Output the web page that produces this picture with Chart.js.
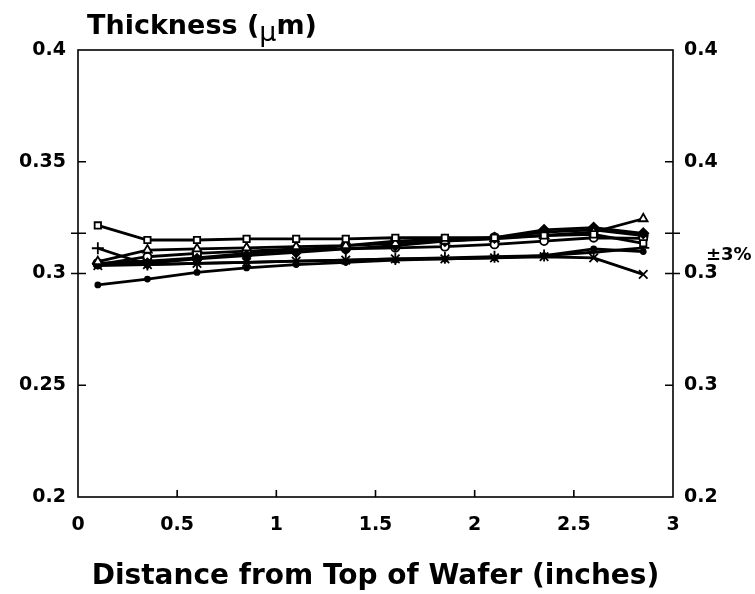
<!DOCTYPE html>
<html>
<head>
<meta charset="utf-8">
<script src="https://cdn.jsdelivr.net/npm/chart.js@4/dist/chart.umd.min.js"></script>
<style>
  html, body { margin: 0; padding: 0; background: #fff; }
  #wrap { width: 755px; height: 594px; }
</style>
</head>
<body>
<div id="wrap"><canvas id="c" width="755" height="594"></canvas></div>
<script>
// ---- data ----
const positions = [0.1, 0.35, 0.6, 0.85, 1.1, 1.35, 1.6, 1.85, 2.1, 2.35, 2.6, 2.85];
const squareSeries   = [0.3215, 0.315, 0.315, 0.3155, 0.3155, 0.3155, 0.316, 0.316, 0.316, 0.317, 0.3175, 0.3135];
const plusSeries     = [0.3113, 0.304, 0.3045, 0.305, 0.3055, 0.306, 0.3065, 0.307, 0.3075, 0.308, 0.3095, 0.3115];
const triangleSeries = [0.3053, 0.3105, 0.311, 0.3115, 0.312, 0.3125, 0.3135, 0.3145, 0.3155, 0.317, 0.3185, 0.3245];
const diamondSeries  = [0.3045, 0.3045, 0.3065, 0.308, 0.3095, 0.311, 0.3125, 0.3145, 0.316, 0.3195, 0.3205, 0.318];
const dotSeries      = [0.2949, 0.2975, 0.3005, 0.3025, 0.304, 0.305, 0.306, 0.3065, 0.307, 0.308, 0.311, 0.3098];
const crossSeries    = [0.3035, 0.304, 0.3045, 0.305, 0.3055, 0.306, 0.3065, 0.3065, 0.307, 0.3075, 0.307, 0.2996];
const circleSeries   = [0.304, 0.3075, 0.309, 0.31, 0.311, 0.311, 0.3115, 0.312, 0.313, 0.3145, 0.316, 0.3157];
const discSeries     = [0.3045, 0.3055, 0.307, 0.309, 0.3105, 0.3125, 0.3145, 0.3154, 0.316, 0.3185, 0.3195, 0.317];

const xTickValues = [0, 0.5, 1, 1.5, 2, 2.5, 3];
const xTickLabels = ['0', '0.5', '1', '1.5', '2', '2.5', '3'];
const yTickValues = [0.2, 0.25, 0.3, 0.35, 0.4];
const yTickLabels = ['0.2', '0.25', '0.3', '0.35', '0.4'];
const y2TickLabels = ['0.2', '0.3', '0.3', '0.4', '0.4'];
const bandLimits = [0.300, 0.318];   // ±3% marks
const yTitle = ['Thickness (', 'μ', 'm)'];
const xTitle = 'Distance from Top of Wafer (inches)';
const bandLabel = '±3%';

// ---- chart ----
const FONT = "'DejaVu Sans', sans-serif";
function pts(arr) { return positions.map((x, i) => ({ x: x, y: arr[i] })); }
function ds(arr, style, fill, radius) {
  return {
    data: pts(arr), borderColor: '#000', borderWidth: 2.8,
    pointStyle: style, pointRadius: radius, pointBorderWidth: 1.8,
    pointBorderColor: '#000', pointBackgroundColor: fill, tension: 0, fill: false
  };
}
function labelFor(values, labels) {
  return function (v) {
    for (let i = 0; i < values.length; i++) if (Math.abs(values[i] - v) < 1e-9) return labels[i];
    return '';
  };
}

const frame = {
  id: 'frame',
  afterDraw(chart) {
    const ctx = chart.ctx, a = chart.chartArea;
    const xs = chart.scales.x, ys = chart.scales.y;
    ctx.save();
    ctx.strokeStyle = '#000'; ctx.lineWidth = 1.6;
    ctx.strokeRect(a.left, a.top, a.right - a.left, a.bottom - a.top);
    ctx.beginPath();
    xTickValues.forEach(v => {
      if (v <= 0 || v >= 3) return;
      const px = xs.getPixelForValue(v);
      ctx.moveTo(px, a.bottom); ctx.lineTo(px, a.bottom - 7);
    });
    yTickValues.forEach(v => {
      if (v <= 0.2 || v >= 0.4) return;
      const py = ys.getPixelForValue(v);
      ctx.moveTo(a.left, py); ctx.lineTo(a.left + 8, py);
      ctx.moveTo(a.right, py); ctx.lineTo(a.right - 8, py);
    });
    bandLimits.forEach(v => {
      const py = ys.getPixelForValue(v);
      ctx.moveTo(a.left - 7, py); ctx.lineTo(a.left + 8, py);
      ctx.moveTo(a.right - 8, py); ctx.lineTo(a.right + 7, py);
    });
    ctx.stroke();
    // y title with lowered mu
    ctx.fillStyle = '#000';
    ctx.textBaseline = 'alphabetic'; ctx.textAlign = 'left';
    ctx.font = 'bold 27px ' + FONT;
    let x = 87; const base = 34;
    ctx.fillText(yTitle[0], x, base); x += ctx.measureText(yTitle[0]).width;
    ctx.font = '27px ' + FONT;
    ctx.fillText(yTitle[1], x, base + 7); x += ctx.measureText(yTitle[1]).width;
    ctx.font = 'bold 27px ' + FONT;
    ctx.fillText(yTitle[2], x, base);
    // ±3% label
    ctx.font = 'bold 18px ' + FONT;
    const mid = (ys.getPixelForValue(bandLimits[0]) + ys.getPixelForValue(bandLimits[1])) / 2;
    ctx.textBaseline = 'middle';
    ctx.fillText(bandLabel, a.right + 33, mid + 2);
    ctx.restore();
  }
};

new Chart(document.getElementById('c'), {
  type: 'line',
  data: {
    datasets: [
      ds(squareSeries, 'rect', '#fff', 4.5),
      ds(plusSeries, 'cross', '#000', 6),
      ds(triangleSeries, 'triangle', '#fff', 5),
      ds(diamondSeries, 'rectRot', '#000', 5),
      ds(dotSeries, 'circle', '#000', 2.5),
      ds(crossSeries, 'crossRot', '#000', 6),
      ds(circleSeries, 'circle', '#fff', 4),
      ds(discSeries, 'circle', '#000', 4.5)
    ]
  },
  plugins: [frame],
  options: {
    responsive: false, animation: false, devicePixelRatio: 1,
    layout: { padding: { top: 50, left: 0, right: 0, bottom: 0 } },
    plugins: { legend: { display: false }, tooltip: { enabled: false }, title: { display: false } },
    scales: {
      x: {
        type: 'linear', position: 'bottom', min: 0, max: 3,
        afterBuildTicks: s => { s.ticks = xTickValues.map(v => ({ value: v })); },
        afterFit: s => { s.height = 97; },
        grid: { display: false, drawTicks: false },
        border: { display: false },
        ticks: { color: '#000', font: { family: FONT, weight: 'bold', size: 19 }, padding: 17, maxRotation: 0,
                 callback: labelFor(xTickValues, xTickLabels) },
        title: { display: true, text: xTitle, color: '#000', font: { family: FONT, weight: 'bold', size: 28 },
                 padding: { top: 16, bottom: 0 } }
      },
      y: {
        type: 'linear', position: 'left', min: 0.2, max: 0.4,
        afterBuildTicks: s => { s.ticks = yTickValues.map(v => ({ value: v })); },
        afterFit: s => { s.width = 78; },
        grid: { display: false, drawTicks: false },
        border: { display: false },
        ticks: { color: '#000', font: { family: FONT, weight: 'bold', size: 19 }, padding: 12,
                 callback: labelFor(yTickValues, yTickLabels) }
      },
      y2: {
        type: 'linear', position: 'right', min: 0.2, max: 0.4,
        afterBuildTicks: s => { s.ticks = yTickValues.map(v => ({ value: v })); },
        afterFit: s => { s.width = 82; },
        grid: { display: false, drawTicks: false },
        border: { display: false },
        ticks: { color: '#000', font: { family: FONT, weight: 'bold', size: 19 }, padding: 11,
                 callback: labelFor(yTickValues, y2TickLabels) }
      }
    }
  }
});
</script>
</body>
</html>
